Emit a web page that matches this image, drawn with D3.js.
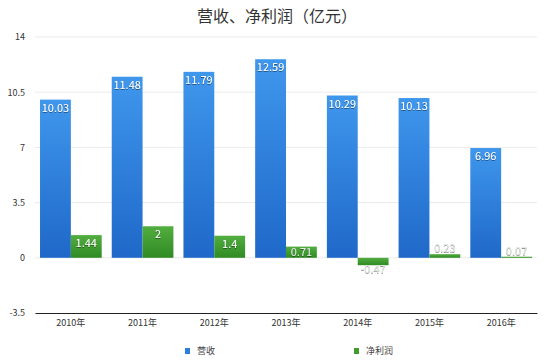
<!DOCTYPE html>
<html>
<head>
<meta charset="utf-8">
<script src="https://cdn.jsdelivr.net/npm/d3@7"></script>
<style>
  body { margin: 0; background: #fff; }
  svg text { font-family: "Noto Sans CJK SC", "Liberation Sans", sans-serif; }
</style>
</head>
<body>
<div id="wrapper"></div>
<script>
// data
const years = ["2010年", "2011年", "2012年", "2013年", "2014年", "2015年", "2016年"];
const revenue = [10.03, 11.48, 11.79, 12.59, 10.29, 10.13, 6.96];
const netProfit = [1.44, 2, 1.4, 0.71, -0.47, 0.23, 0.07];
const seriesNames = ["营收", "净利润"];
const yTicks = [-3.5, 0, 3.5, 7, 10.5, 14];

const dimensions = {
  width: 550,
  height: 361,
  margin: { top: 37, right: 13, bottom: 48, left: 35 }
};
dimensions.boundedWidth = dimensions.width - dimensions.margin.left - dimensions.margin.right;
dimensions.boundedHeight = dimensions.height - dimensions.margin.top - dimensions.margin.bottom;

const svg = d3.select("#wrapper")
  .append("svg")
  .attr("width", dimensions.width)
  .attr("height", dimensions.height);

// gradients
const defs = svg.append("defs");
const blueGrad = defs.append("linearGradient")
  .attr("id", "blueGrad").attr("x1", 0).attr("y1", 0).attr("x2", 0).attr("y2", 1);
blueGrad.append("stop").attr("offset", "0%").attr("stop-color", "#3f97ec");
blueGrad.append("stop").attr("offset", "100%").attr("stop-color", "#1f68c9");
const greenGrad = defs.append("linearGradient")
  .attr("id", "greenGrad").attr("x1", 0).attr("y1", 0).attr("x2", 0).attr("y2", 1);
greenGrad.append("stop").attr("offset", "0%").attr("stop-color", "#52ae3f");
greenGrad.append("stop").attr("offset", "100%").attr("stop-color", "#2f8a24");

const shadow = defs.append("filter").attr("id", "txtShadow")
  .attr("x", "-20%").attr("y", "-20%").attr("width", "140%").attr("height", "140%");
shadow.append("feDropShadow")
  .attr("dx", 0).attr("dy", 0.6).attr("stdDeviation", 0.6)
  .attr("flood-color", "#000").attr("flood-opacity", 0.7);

// title
svg.append("text")
  .attr("x", dimensions.width / 2 + 2)
  .attr("y", 22)
  .attr("text-anchor", "middle")
  .attr("font-size", 16)
  .attr("fill", "#333")
  .text("营收、净利润（亿元）");

const bounds = svg.append("g")
  .attr("transform", `translate(${dimensions.margin.left},${dimensions.margin.top})`);

// scales
const yScale = d3.scaleLinear()
  .domain([-3.5, 14])
  .range([dimensions.boundedHeight, 0]);

const xScale = d3.scaleBand()
  .domain(years)
  .range([0, dimensions.boundedWidth])
  .paddingInner(0.14)
  .paddingOuter(0.07);

const subScale = d3.scaleBand()
  .domain(seriesNames)
  .range([0, xScale.bandwidth()]);

// gridlines
bounds.append("g")
  .selectAll("line")
  .data(yTicks.filter(d => d !== -3.5))
  .join("line")
  .attr("x1", 0)
  .attr("x2", dimensions.boundedWidth)
  .attr("y1", d => yScale(d))
  .attr("y2", d => yScale(d))
  .attr("stroke", "#ebebeb")
  .attr("stroke-width", 1);

// y axis labels
const yAxisGenerator = d3.axisLeft(yScale)
  .tickValues(yTicks)
  .tickSize(0)
  .tickPadding(10)
  .tickFormat(d => d);
const yAxis = bounds.append("g").call(yAxisGenerator);
yAxis.select(".domain").remove();
yAxis.selectAll("text")
  .attr("font-size", 9)
  .attr("fill", "#333");

// bars
const groups = bounds.append("g")
  .selectAll("g")
  .data(years)
  .join("g")
  .attr("transform", d => `translate(${xScale(d)},0)`);

const rows = years.map((y, i) => [
  { key: "营收", value: revenue[i] },
  { key: "净利润", value: netProfit[i] }
]);

groups.each(function (year, i) {
  const g = d3.select(this);
  rows[i].forEach(d => {
    const top = yScale(Math.max(0, d.value));
    const h = Math.abs(yScale(d.value) - yScale(0));
    g.append("rect")
      .attr("x", subScale(d.key))
      .attr("y", top)
      .attr("width", subScale.bandwidth())
      .attr("height", Math.max(h, 1))
      .attr("fill", d.key === "营收" ? "url(#blueGrad)" : "url(#greenGrad)");

    let ly;
    if (d.value < 0) ly = yScale(d.value) + 8;
    else if (h < 8) ly = yScale(d.value) - 2;
    else if (h < 14) ly = top + 9;
    else ly = top + 12;
    g.append("text")
      .attr("x", subScale(d.key) + subScale.bandwidth() / 2)
      .attr("y", ly)
      .attr("text-anchor", "middle")
      .attr("font-size", 11)
      .attr("fill", h < 14 ? "#e4ebe4" : "#fff")
      .attr("filter", "url(#txtShadow)")
      .text(d.value);
  });
});

// x axis
const xAxisGenerator = d3.axisBottom(xScale).tickSize(0).tickPadding(7);
const xAxis = bounds.append("g")
  .attr("transform", `translate(0,${dimensions.boundedHeight})`)
  .call(xAxisGenerator);
xAxis.select(".domain").attr("stroke", "#222").attr("stroke-width", 1.2);
xAxis.selectAll("text").attr("font-size", 9).attr("fill", "#333");

// legend
const legendX = [185, 354];
const legend = svg.append("g")
  .selectAll("g")
  .data(seriesNames)
  .join("g")
  .attr("transform", (d, i) => `translate(${legendX[i]},348)`);
legend.append("rect")
  .attr("width", 5)
  .attr("height", 6)
  .attr("fill", (d, i) => i === 0 ? "#2c7fe0" : "#3f9c30");
legend.append("text")
  .attr("x", 12)
  .attr("y", 6)
  .attr("font-size", 9)
  .attr("fill", "#444")
  .text(d => d);
</script>
</body>
</html>
